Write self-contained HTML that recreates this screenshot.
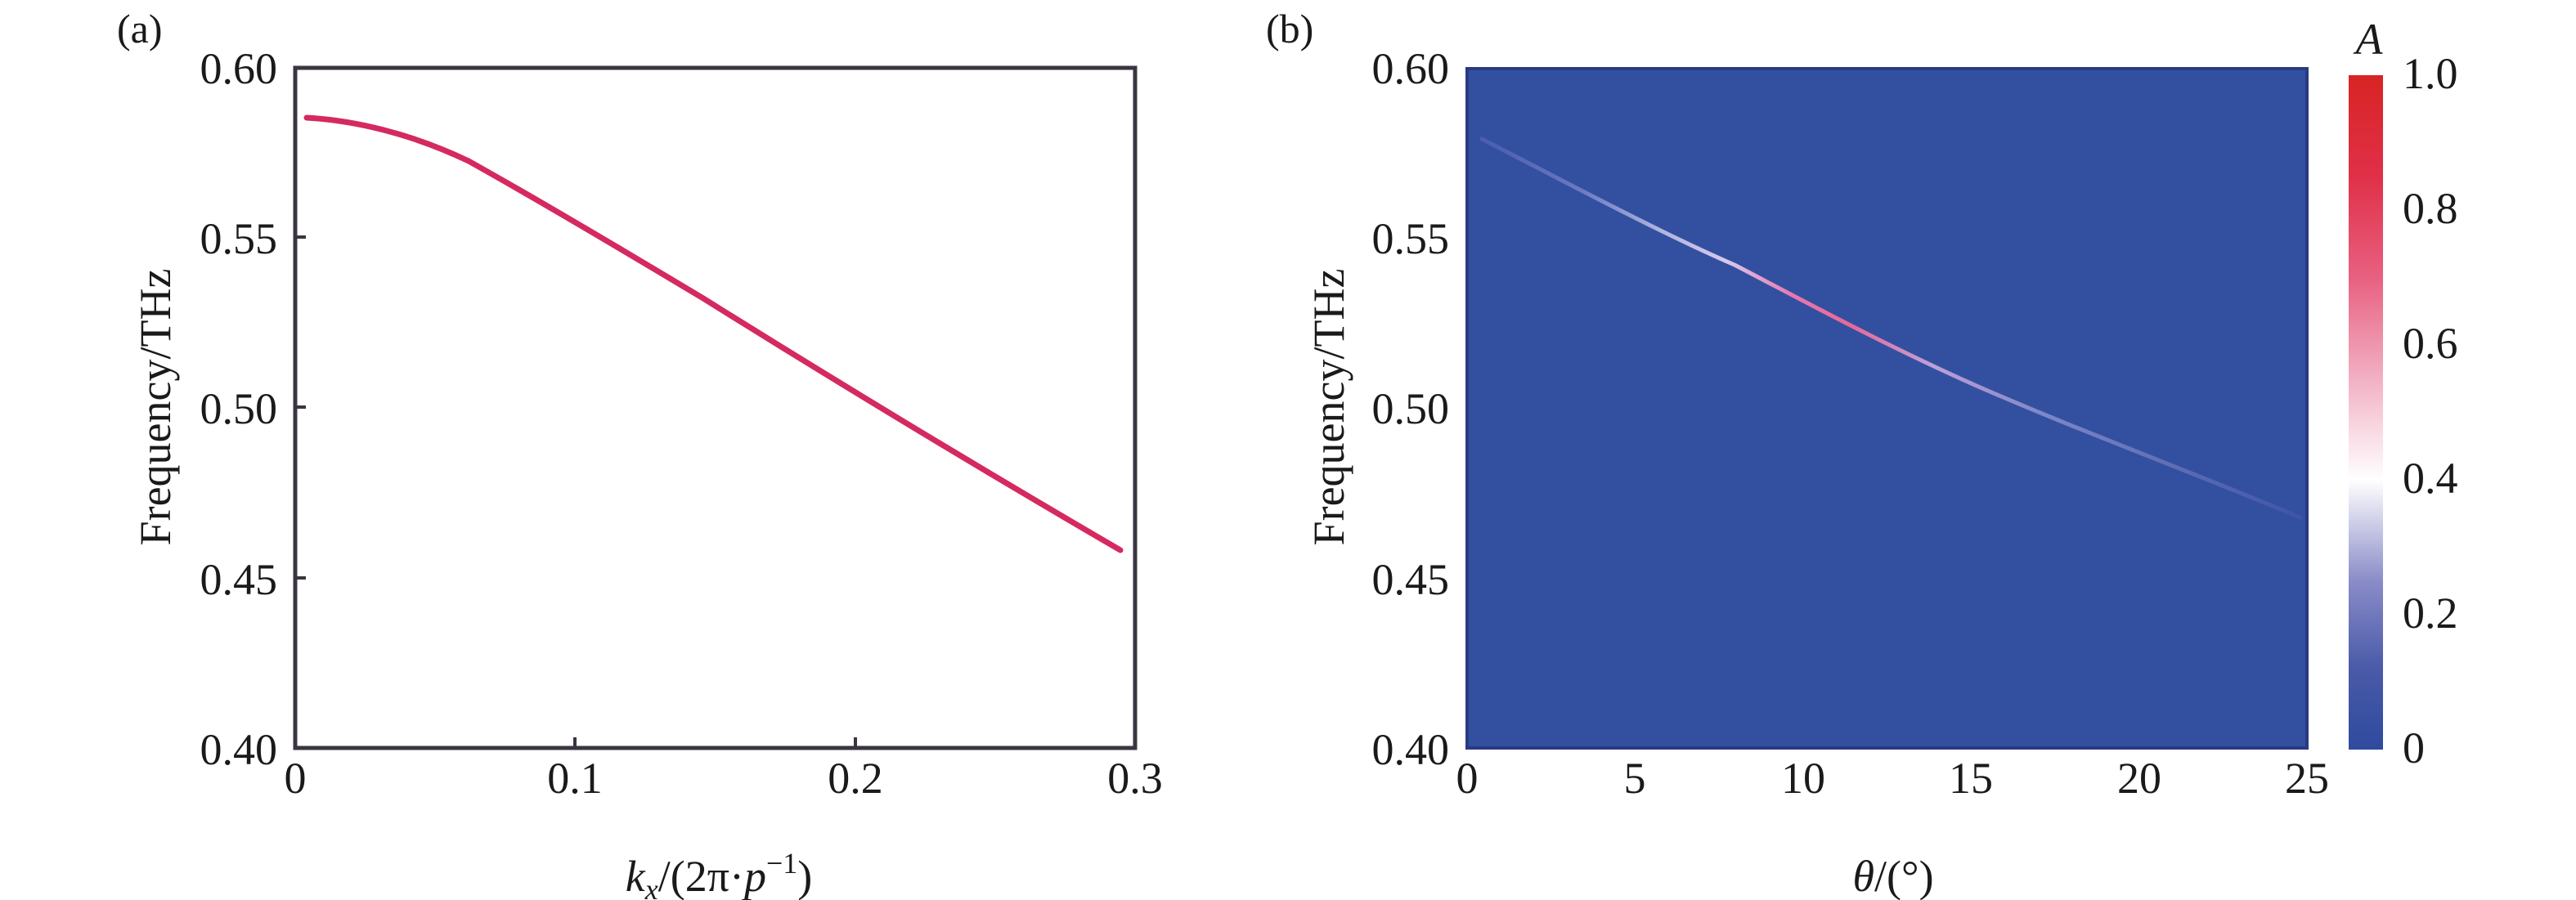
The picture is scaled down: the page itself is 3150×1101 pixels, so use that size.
<!DOCTYPE html>
<html><head><meta charset="utf-8"><style>
html,body{margin:0;padding:0;background:#fff;}
svg{display:block;}
text{font-family:"Liberation Serif","Times New Roman",Times,serif;fill:#1a1a1a;}
</style></head><body>
<svg width="3150" height="1101" viewBox="0 0 3150 1101" xmlns="http://www.w3.org/2000/svg" font-family="Liberation Serif, Times New Roman, serif">
<defs>
<linearGradient id="cb" x1="0" y1="1" x2="0" y2="0">
<stop offset="0" stop-color="#2f4a9e"/>
<stop offset="0.12" stop-color="#4a5aa8"/>
<stop offset="0.25" stop-color="#8a8cc8"/>
<stop offset="0.4" stop-color="#ffffff"/>
<stop offset="0.55" stop-color="#f2b0c4"/>
<stop offset="0.7" stop-color="#e86080"/>
<stop offset="0.85" stop-color="#e03048"/>
<stop offset="1" stop-color="#d82424"/>
</linearGradient>
<linearGradient id="ln" x1="1810" y1="0" x2="2815" y2="0" gradientUnits="userSpaceOnUse">
<stop offset="0" stop-color="#4a5cae"/>
<stop offset="0.12" stop-color="#6a78c0"/>
<stop offset="0.22" stop-color="#b0b4e0"/>
<stop offset="0.3" stop-color="#d8c8ec"/>
<stop offset="0.38" stop-color="#e878b0"/>
<stop offset="0.45" stop-color="#e86898"/>
<stop offset="0.55" stop-color="#c0a0d8"/>
<stop offset="0.68" stop-color="#7f88c8"/>
<stop offset="1" stop-color="#3e54a6"/>
</linearGradient>
</defs>

<!-- Panel a -->
<text x="143" y="52" font-size="50">(a)</text>
<rect x="361" y="83" width="1027" height="832" fill="none" stroke="#3a3540" stroke-width="5"/>
<g stroke="#3a3540" stroke-width="4">
<line x1="361" y1="290" x2="374" y2="290"/><line x1="361" y1="498" x2="374" y2="498"/><line x1="361" y1="707" x2="374" y2="707"/>
<line x1="703" y1="915" x2="703" y2="902"/><line x1="1046" y1="915" x2="1046" y2="902"/>
</g>
<path d="M375,144 C430,147 500,162 573,197 C650,240 760,305 860,365 C980,440 1150,545 1370,673" fill="none" stroke="#d42a60" stroke-width="7" stroke-linecap="round"/>
<g font-size="54" text-anchor="end">
<text x="339" y="102">0.60</text><text x="339" y="310">0.55</text><text x="339" y="518">0.50</text><text x="339" y="727">0.45</text><text x="339" y="935">0.40</text>
</g>
<g font-size="54" text-anchor="middle">
<text x="361" y="970">0</text><text x="703" y="970">0.1</text><text x="1046" y="970">0.2</text><text x="1388" y="970">0.3</text>
</g>
<text transform="translate(208,498) rotate(-90)" font-size="54" text-anchor="middle">Frequency/THz</text>
<text x="879" y="1090" font-size="54" text-anchor="middle"><tspan font-style="italic">k</tspan><tspan font-style="italic" font-size="36" dy="10">x</tspan><tspan dy="-10">/(2π·</tspan><tspan font-style="italic">p</tspan><tspan font-size="36" dy="-22">−1</tspan><tspan dy="22">)</tspan></text>

<!-- Panel b -->
<text x="1548" y="52" font-size="50">(b)</text>
<rect x="1794" y="84" width="1027" height="831" fill="#3350a0"/>
<rect x="1794" y="84" width="1027" height="831" fill="none" stroke="#2a3a80" stroke-width="4"/>
<path d="M1810,169 C1900,215 2030,285 2121,324 C2200,365 2300,420 2417,472 C2550,530 2700,585 2815,634" fill="none" stroke="url(#ln)" stroke-width="5"/>
<rect x="2872" y="92" width="42" height="825" fill="url(#cb)"/>
<text x="2897" y="66" font-size="54" font-style="italic" text-anchor="middle">A</text>
<g font-size="54">
<text x="2938" y="108">1.0</text><text x="2938" y="273">0.8</text><text x="2938" y="438">0.6</text><text x="2938" y="603">0.4</text><text x="2938" y="768">0.2</text><text x="2938" y="933">0</text>
</g>
<g font-size="54" text-anchor="end">
<text x="1772" y="102">0.60</text><text x="1772" y="310">0.55</text><text x="1772" y="518">0.50</text><text x="1772" y="727">0.45</text><text x="1772" y="935">0.40</text>
</g>
<g font-size="54" text-anchor="middle">
<text x="1794" y="970">0</text><text x="1999" y="970">5</text><text x="2205" y="970">10</text><text x="2410" y="970">15</text><text x="2616" y="970">20</text><text x="2821" y="970">25</text>
</g>
<text transform="translate(1643,498) rotate(-90)" font-size="54" text-anchor="middle">Frequency/THz</text>
<text x="2315" y="1090" font-size="54" text-anchor="middle"><tspan font-style="italic">θ</tspan>/(°)</text>
</svg>
</body></html>
